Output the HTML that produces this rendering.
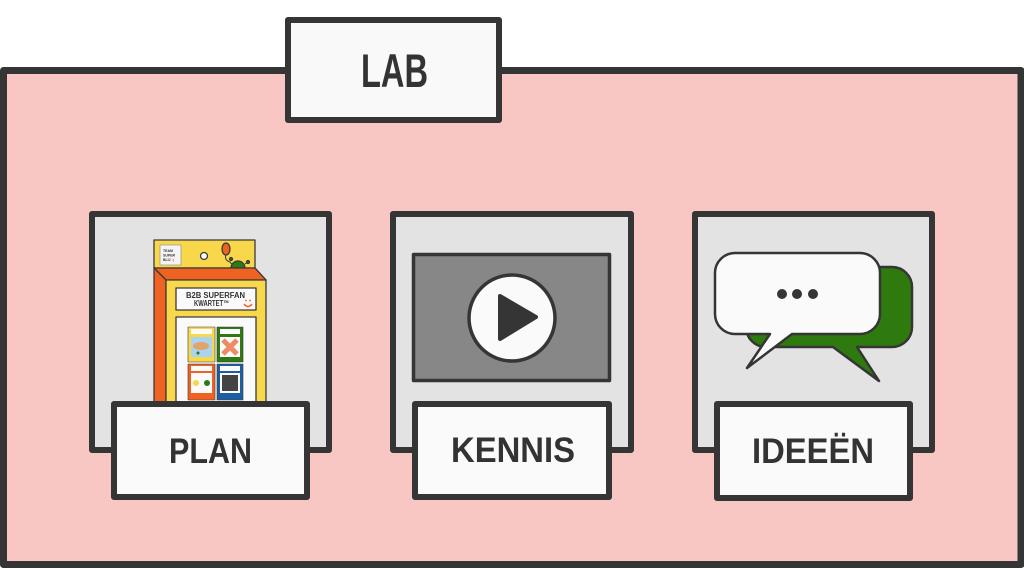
<!DOCTYPE html>
<html><head><meta charset="utf-8"><style>
html,body{margin:0;padding:0;background:#fff;width:1024px;height:568px;overflow:hidden}
svg{display:block}
text{font-family:"Liberation Sans","DejaVu Sans",sans-serif;font-weight:bold;fill:#333}
</style></head><body>
<svg width="1024" height="568" viewBox="0 0 1024 568" xmlns="http://www.w3.org/2000/svg">
<!-- outer LAB container -->
<rect x="3.5" y="70.5" width="1017.5" height="494" fill="#f8c7c3" stroke="#353535" stroke-width="7" stroke-linejoin="round"/>
<!-- LAB title -->
<rect x="288" y="20" width="211" height="100" fill="#f9f9f9" stroke="#353535" stroke-width="6" stroke-linejoin="round"/>
<text x="361" y="87" font-size="47" textLength="67" lengthAdjust="spacingAndGlyphs">LAB</text>

<!-- Panel 1 -->
<rect x="92" y="214" width="237" height="236" fill="#e3e3e3" stroke="#353535" stroke-width="6" stroke-linejoin="round"/>
<!-- kartet illustration -->
<g stroke="#3a3a3a" stroke-width="1.3" stroke-linejoin="round">
  <rect x="154" y="240" width="101" height="28" fill="#f8d84a"/>
  <rect x="160" y="245" width="21" height="20" fill="#f4f4f4" stroke="#999" stroke-width="0.8"/>
  <circle cx="204" cy="256" r="3.5" fill="#fafafa"/>
  <path d="M226 255 Q224 260 230 262 Q232 266 238 263" fill="none" stroke-width="1"/>
  <ellipse cx="226" cy="249" rx="4" ry="6" fill="#ef6221"/>
  <path d="M231 268 A7 7 0 0 1 245 268 Z" fill="#2d7a13"/>
  <circle cx="231" cy="259" r="1.5" fill="#2d7a13"/>
  <path d="M245 264 L248 262" fill="none" stroke-width="1"/>
  <circle cx="248" cy="262" r="1.5" fill="#2d7a13"/>
  <polygon points="154,268 255,268 266,280 166,280" fill="#ef6221"/>
  <polygon points="154,268 166,280 166,410 154,410" fill="#ef6221"/>
  <rect x="166" y="280" width="100" height="130" fill="#f8d84a"/>
  <rect x="176" y="288" width="80" height="22" fill="#fafafa"/>
  <rect x="176" y="317" width="80" height="93" fill="#fafafa"/>
  <rect x="188" y="327" width="27" height="35" fill="#f8d84a" stroke-width="0.6"/>
  <rect x="217" y="327" width="26" height="35" fill="#2d7a13" stroke-width="0.6"/>
  <rect x="188" y="364" width="27" height="36" fill="#ef6221" stroke-width="0.6"/>
  <rect x="217" y="364" width="26" height="36" fill="#1d5ea0" stroke-width="0.6"/>
</g>
<g stroke="none">
  <rect x="191" y="337" width="21" height="20" fill="#a9d3ee"/>
  <ellipse cx="201" cy="346" rx="8" ry="4" fill="#e0a56a"/>
  <circle cx="198" cy="353" r="1.5" fill="#2d7a13"/>
  <rect x="220" y="337" width="20" height="20" fill="#fafafa"/>
  <path d="M223 340 L237 354 M237 340 L223 354" stroke="#f08a64" stroke-width="5"/>
  <rect x="191" y="373" width="21" height="20" fill="#fafafa"/>
  <circle cx="196" cy="383" r="3" fill="#f8d84a"/>
  <circle cx="207" cy="383" r="3" fill="#2d7a13"/>
  <rect x="220" y="373" width="20" height="20" fill="#fafafa"/>
  <rect x="222" y="375" width="16" height="16" fill="#444"/>
  <rect x="191" y="329" width="21" height="5" fill="#fafafa"/>
  <rect x="220" y="329" width="20" height="5" fill="#fafafa"/>
  <rect x="191" y="366" width="21" height="5" fill="#fafafa"/>
  <rect x="220" y="366" width="20" height="5" fill="#fafafa"/>
</g>
<text x="163" y="252" font-size="3.5" font-weight="normal">TEAM</text>
<text x="163" y="256.5" font-size="3.5" font-weight="normal">SUPER</text>
<text x="163" y="261" font-size="3.5" font-weight="normal">BLIJ <tspan fill="#ef6221">:)</tspan></text>
<text x="186" y="298" font-size="8" textLength="59" lengthAdjust="spacingAndGlyphs">B2B SUPERFAN</text>
<text x="194" y="306" font-size="8" textLength="35" lengthAdjust="spacingAndGlyphs">KWARTET™</text>
<path d="M244 304 Q248 309 252 304" fill="none" stroke="#ef6221" stroke-width="1.5"/>
<circle cx="246" cy="300.5" r="0.9" fill="#ef6221"/><circle cx="250" cy="300.5" r="0.9" fill="#ef6221"/>

<rect x="114" y="404" width="193" height="93" fill="#fafafa" stroke="#353535" stroke-width="6" stroke-linejoin="round"/>
<text x="169" y="463" font-size="35" textLength="83" lengthAdjust="spacingAndGlyphs">PLAN</text>

<!-- Panel 2 -->
<rect x="393" y="214" width="238" height="236" fill="#e3e3e3" stroke="#353535" stroke-width="6" stroke-linejoin="round"/>
<rect x="413.5" y="254.5" width="196" height="126" fill="#878787" stroke="#353535" stroke-width="3.5" stroke-linejoin="round"/>
<circle cx="512" cy="318" r="43" fill="#fafafa" stroke="#353535" stroke-width="3.5"/>
<polygon points="500,296 536,317 500,339" fill="#353535" stroke="#353535" stroke-width="4" stroke-linejoin="round"/>
<rect x="415" y="404" width="194" height="93" fill="#fafafa" stroke="#353535" stroke-width="6" stroke-linejoin="round"/>
<text x="451" y="462" font-size="35" textLength="124" lengthAdjust="spacingAndGlyphs">KENNIS</text>

<!-- Panel 3 -->
<rect x="695" y="214" width="237" height="236" fill="#e3e3e3" stroke="#353535" stroke-width="6" stroke-linejoin="round"/>
<path d="M766 267 H892 A20 20 0 0 1 912 287 V327 A20 20 0 0 1 892 347 H857 L879 381 L833 347 H766 A20 20 0 0 1 746 327 V287 A20 20 0 0 1 766 267 Z" fill="#2e7a0f" stroke="#353535" stroke-width="2.5" stroke-linejoin="round"/>
<path d="M735 253 H860 A20 20 0 0 1 880 273 V314 A20 20 0 0 1 860 334 H792 L747 368 L770 334 H735 A20 20 0 0 1 715 314 V273 A20 20 0 0 1 735 253 Z" fill="#fafafa" stroke="#353535" stroke-width="2.5" stroke-linejoin="round"/>
<circle cx="782" cy="294" r="5" fill="#353535"/>
<circle cx="797" cy="294" r="5" fill="#353535"/>
<circle cx="813" cy="294" r="5" fill="#353535"/>
<rect x="717" y="404" width="193" height="94" fill="#fafafa" stroke="#353535" stroke-width="6" stroke-linejoin="round"/>
<text x="752" y="463" font-size="35" textLength="122" lengthAdjust="spacingAndGlyphs">IDEEËN</text>
</svg>
</body></html>
